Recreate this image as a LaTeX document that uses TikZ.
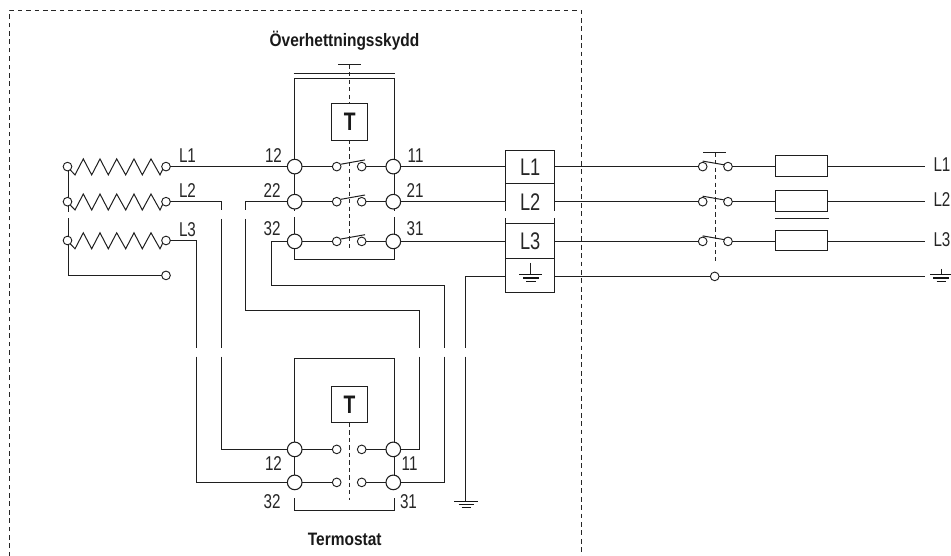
\documentclass[tikz,border=0pt]{standalone}
\usepackage{fontspec}
\setmainfont{Liberation Sans}[FakeStretch=0.76]
\newfontfamily\titlefont{Liberation Sans}[FakeStretch=0.86]
\begin{document}
\begin{tikzpicture}[x=0.75pt,y=-0.75pt,
  wire/.style={draw=black!88,line width=0.75pt},
  earth/.style={draw=black!92,line width=1.05pt},
  sm/.style={circle,draw=black!88,fill=white,line width=0.7pt,minimum size=6.5pt,inner sep=0pt,outer sep=0pt},
  bg/.style={circle,draw=black!88,fill=white,line width=0.8pt,minimum size=11pt,inner sep=0pt,outer sep=0pt},
  lab/.style={anchor=base west,inner sep=0pt,outer sep=0pt,font=\fontsize{15}{15}\selectfont,text=black!85},
  cell/.style={draw=black!88,line width=0.75pt,minimum width=36.75pt,inner sep=0pt,outer sep=0pt,font=\fontsize{18}{18}\selectfont,text=black!85},
  tbox/.style={draw=black!88,line width=0.75pt,minimum width=27pt,minimum height=27.5pt,inner sep=0pt,outer sep=0pt,fill=white,font=\bfseries\fontsize{19}{19}\selectfont,text=black!90},
  title/.style={anchor=base,inner sep=0pt,font=\titlefont\bfseries\fontsize{13.5}{14}\selectfont,text=black!90},
  fuse/.style={draw=black!88,line width=0.75pt,fill=white,minimum width=38.5pt,minimum height=15.2pt,inner sep=0pt,outer sep=0pt},
  ddash/.style={draw=black!85,line width=0.7pt,dash pattern=on 3.2pt off 2.4pt},
  bdash/.style={draw=black!85,line width=0.75pt,dash pattern=on 3.5pt off 2.8pt},
]
\useasboundingbox (0,0) rectangle (951,556);
% outer dashed frame
\coordinate (fa) at (9.4,556.5); \coordinate (fb) at (9.4,10.5); \coordinate (fc) at (581.4,10.5); \coordinate (fd) at (581.4,556.5);
\draw[bdash] (fa)--(fb)--(fc)--(fd);
% titles
\node[title] (t1) at (344.5,47) {Överhettningsskydd};
\node[title] (t2) at (344.7,545) {Termostat};
% upper device dashed axis and boxes
\coordinate (ua) at (349.5,64.7); \coordinate (ub) at (349.5,249);
\draw[ddash] (ua)--(ub);
\coordinate (ubl) at (338,64.7); \coordinate (ubr) at (361,64.7);
\draw[wire] (ubl)--(ubr);
\coordinate (obl) at (293.5,73.4); \coordinate (obr) at (395.3,73.4);
\draw[wire] (obl)--(obr);
\node[tbox] (T1) at (349.7,121.7) {T};
% upper rails
\coordinate (r1) at (294.7,78.6); \coordinate (r2) at (394.7,78.6);
\coordinate (r3) at (294.7,210.7); \coordinate (r4) at (394.7,210.7);
\coordinate (r5) at (294.7,217.3); \coordinate (r6) at (394.7,217.3);
\coordinate (r7) at (294.7,259.5); \coordinate (r8) at (394.7,259.5);
\draw[wire] (r3)--(r1)--(r2)--(r4);
\draw[wire] (r5)--(r7)--(r8)--(r6);
% heater rows
\foreach \yy in {166.6,201.7,240.5}{
  \draw[wire] (69,\yy+2) -- (75,\yy+8.3) -- (83.3,\yy-7.7) -- (91.7,\yy+8.3) -- (100,\yy-7.7) -- (108.3,\yy+8.3) -- (116.7,\yy-7.7) -- (125.7,\yy+8.3) -- (134,\yy-7.7) -- (142.3,\yy+8.3) -- (151,\yy-7.7) -- (160,\yy+8.3) -- (163,\yy+2);
}
\coordinate (hl1) at (68.4,211.7); \coordinate (hl2) at (68.4,218.3); \coordinate (hl3) at (68.4,275.4);
\node[sm] (hz) at (166,275.4) {};
\coordinate (ht) at (68.4,166.6);
\draw[wire] (ht)--(hl1); \draw[wire] (hl2)--(hl3)--(hz);
\node[sm] (ha1) at (67.5,166.6) {}; \node[sm] (ha2) at (67.5,201.7) {}; \node[sm] (ha3) at (67.5,240.5) {};
\node[sm] (hb1) at (166,166.6) {}; \node[sm] (hb2) at (166,201.7) {}; \node[sm] (hb3) at (166,240.5) {};
% big terminals upper
\node[bg] (u12) at (294.7,166.6) {}; \node[bg] (u22) at (294.7,201.7) {}; \node[bg] (u32) at (294.7,241.4) {};
\node[bg] (u11) at (393.3,166.6) {}; \node[bg] (u21) at (393.3,201.7) {}; \node[bg] (u31) at (393.3,241.4) {};
\foreach \yy/\k in {166.6/1,201.7/2,241.4/3}{
  \node[sm] (ca\k) at (336.7,\yy) {}; \node[sm] (cb\k) at (361.7,\yy) {};
  \draw[wire] (u\k2) -- (ca\k); \draw[wire] (cb\k) -- (u\k1);
  \draw[wire] (341,\yy-2.4) -- (365,\yy-6.7);
}
% terminal block
\node[cell,minimum height=25.25pt] (tL1) at (530.2,166.85) {L1};
\node[inner sep=0pt,outer sep=0pt,minimum width=36.75pt,minimum height=25.25pt,font=\fontsize{18}{18}\selectfont,text=black!85] (tL2) at (530.2,201.7) {L2};
\coordinate (g1) at (505.7,183.7); \coordinate (g2) at (505.7,211); \coordinate (g3) at (554.7,183.7); \coordinate (g4) at (554.7,211);
\draw[wire] (g1)--(g2); \draw[wire] (g3)--(g4);
\node[cell,minimum height=26.25pt] (tL3) at (530.2,240.8) {L3};
\coordinate (g5) at (505.7,218); \coordinate (g6) at (505.7,223.3); \coordinate (g7) at (554.7,218); \coordinate (g8) at (554.7,223.3);
\draw[wire] (g5)--(g6); \draw[wire] (g7)--(g8);
\node[cell,minimum height=25.8pt] (tG) at (530.2,275.5) {};
% terminal earth symbol
\coordinate (e0) at (530.7,263);
\coordinate (e1) at (530.7,274.4);
\coordinate (e2l) at (519,274.4); \coordinate (e2r) at (542.3,274.4);
\coordinate (e3l) at (523,278); \coordinate (e3r) at (538.5,278);
\coordinate (e4l) at (526,281.4); \coordinate (e4r) at (535.5,281.4);
\draw[wire] (e0)--(e1); \draw[earth] (e2l)--(e2r); \draw[earth] (e3l)--(e3r); \draw[earth] (e4l)--(e4r);
% wires to terminal block
\draw[wire] (hb1)--(u12);
\draw[wire] (u11)--(tL1.west |- u11);
\draw[wire] (u21)--(tL2.west |- u21);
\draw[wire] (u31)--(tL3.west |- u31);
% lower device
\coordinate (d1) at (294.7,358.4); \coordinate (d2) at (394.7,358.4);
\coordinate (d5) at (294.7,449.4); \coordinate (d6) at (294.7,482.4);
\coordinate (d3) at (394.7,449.4); \coordinate (d4) at (394.7,482.4);
\coordinate (da) at (349.4,423); \coordinate (db) at (349.4,500);
\draw[ddash] (da)--(db);
\node[tbox] (T2) at (349.5,404.5) {T};
\draw[wire] (d5)--(d1)--(d2)--(d3)--(d4);
\draw[wire] (d5)--(d6);
\node[bg] (l12) at (294.7,449.4) {}; \node[bg] (l32) at (294.7,482.4) {};
\node[bg] (l11) at (393.3,449.4) {}; \node[bg] (l31) at (393.3,482.4) {};
\node[sm] (da1) at (336.7,449.4) {}; \node[sm] (db1) at (361.7,449.4) {};
\node[sm] (da2) at (336.7,482.4) {}; \node[sm] (db2) at (361.7,482.4) {};
\draw[wire] (l12)--(da1); \draw[wire] (db1)--(l11);
\draw[wire] (l32)--(da2); \draw[wire] (db2)--(l31);
\coordinate (br1) at (294.7,498); \coordinate (br2) at (294.7,510.6); \coordinate (br3) at (394.7,510.6); \coordinate (br4) at (394.7,498);
\draw[wire] (br1)--(br2)--(br3)--(br4);
% long wires
\coordinate (w1a) at (221.6,201.7); \coordinate (w1b) at (221.6,210); \coordinate (w1c) at (221.6,219); \coordinate (w1d) at (221.6,348); \coordinate (w1e) at (221.6,356.7); \coordinate (w1f) at (221.6,449.4);
\draw[wire] (hb2)--(w1a)--(w1b); \draw[wire] (w1c)--(w1d); \draw[wire] (w1e)--(w1f)--(l12);
\coordinate (w2a) at (196.6,240.5); \coordinate (w2d) at (196.6,348); \coordinate (w2e) at (196.6,356.7); \coordinate (w2f) at (196.6,482.4);
\draw[wire] (hb3)--(w2a)--(w2d); \draw[wire] (w2e)--(w2f)--(l32);
\coordinate (w3a) at (245.6,201.7); \coordinate (w3b) at (245.6,210); \coordinate (w3bb) at (245.6,219); \coordinate (w3c) at (245.6,310.4); \coordinate (w3d) at (419.4,310.4); \coordinate (w3e) at (419.4,348); \coordinate (w3f) at (419.4,356.7); \coordinate (w3g) at (419.4,449.4);
\draw[wire] (u22)--(w3a)--(w3b); \draw[wire] (w3bb)--(w3c)--(w3d)--(w3e); \draw[wire] (w3f)--(w3g)--(l11);
\coordinate (w4a) at (271.4,241.4); \coordinate (w4b) at (271.4,285.4); \coordinate (w4c) at (444.5,285.4); \coordinate (w4d) at (444.5,348); \coordinate (w4e) at (444.5,356.7); \coordinate (w4f) at (444.5,482.4);
\draw[wire] (u32)--(w4a)--(w4b)--(w4c)--(w4d); \draw[wire] (w4e)--(w4f)--(l31);
\coordinate (w5a) at (465.4,276.4); \coordinate (w5b) at (465.4,348); \coordinate (w5c) at (465.4,356.7); \coordinate (w5e) at (465.4,501);
\draw[wire] (tG.west |- w5a)--(w5a)--(w5b); \draw[wire] (w5c)--(w5e);
\coordinate (e5l) at (454.3,501.4); \coordinate (e5r) at (477.7,501.4);
\coordinate (e6l) at (458.5,504.4); \coordinate (e6r) at (473.5,504.4);
\coordinate (e7l) at (461.5,507.5); \coordinate (e7r) at (470.5,507.5);
\draw[earth] (e5l)--(e5r); \draw[earth] (e6l)--(e6r); \draw[earth] (e7l)--(e7r);
% right side switch gear
\coordinate (sa) at (715.4,152.7); \coordinate (sb) at (715.4,261.7);
\draw[ddash] (sa)--(sb);
\coordinate (sbl) at (703,152.7); \coordinate (sbr) at (725.7,152.7);
\draw[wire] (sbl)--(sbr);
\foreach \yy/\k in {166.6/1,201.7/2,241.4/3}{
  \node[sm] (sl\k) at (702.7,\yy) {}; \node[sm] (sr\k) at (728,\yy) {};
  \draw[wire] (702.7,\yy-5.5) -- (724,\yy-1.8);
  \node[fuse] (f\k) at (801.5,\yy-0.7) {};
  \coordinate (end\k) at (925,\yy);
  \draw[wire] (sr\k) -- (f\k.west |- sr\k);
  \draw[wire] (f\k.east |- sr\k) -- (end\k);
}
\draw[wire] (tL1.east |- sl1)--(sl1);
\draw[wire] (tL2.east |- sl2)--(sl2);
\draw[wire] (tL3.east |- sl3)--(sl3);
\node[sm] (sg) at (714.7,276.4) {};
\coordinate (endg) at (925,276.4);
\draw[wire] (tG.east |- sg)--(sg); \draw[wire] (sg)--(endg);
\coordinate (ul) at (775,218.4); \coordinate (ur) at (829,218.4);
\draw[wire] (ul)--(ur);
% outer earth symbol
\coordinate (e8) at (941,269); \coordinate (e9) at (941,274.4);
\coordinate (e10l) at (930,274.4); \coordinate (e10r) at (951,274.4);
\coordinate (e11l) at (933,278); \coordinate (e11r) at (949,278);
\coordinate (e12l) at (936.5,281.4); \coordinate (e12r) at (945.5,281.4);
\draw[wire] (e8)--(e9); \draw[earth] (e10l)--(e10r); \draw[earth] (e11l)--(e11r); \draw[earth] (e12l)--(e12r);
% labels
\node[lab] (lL1) at (179,162.7) {L1};
\node[lab] (lL2) at (179,198) {L2};
\node[lab] (lL3) at (179,236.7) {L3};
\node[lab] (n12) at (265,162.7) {12};
\node[lab] (n22) at (263.7,197.7) {22};
\node[lab] (n32) at (263.7,236) {32};
\node[lab] (n11) at (407.7,162.5) {11};
\node[lab] (n21) at (406.7,197.7) {21};
\node[lab] (n31) at (406.7,236) {31};
\node[lab] (m12) at (265,470) {12};
\node[lab] (m11) at (401.7,470) {11};
\node[lab] (m32) at (263.7,508.3) {32};
\node[lab] (m31) at (400,508.3) {31};
\node[lab] (rL1) at (933.5,172) {L1};
\node[lab] (rL2) at (933.5,207) {L2};
\node[lab] (rL3) at (933.5,246.5) {L3};
\end{tikzpicture}
\end{document}
